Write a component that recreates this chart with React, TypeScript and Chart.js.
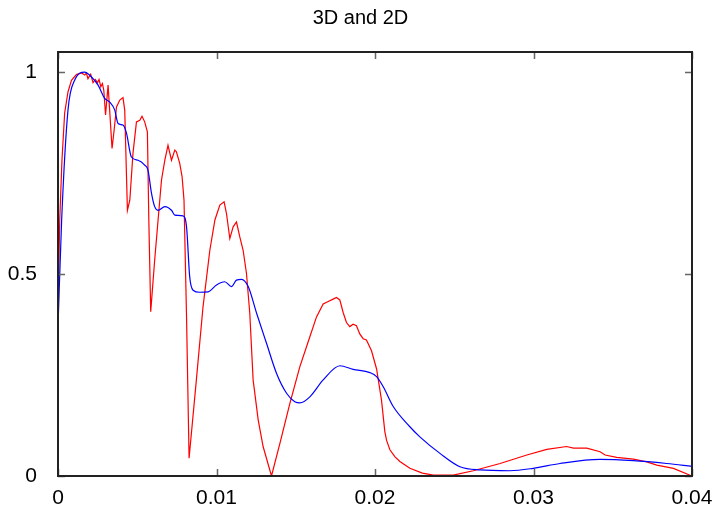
import { useEffect, useRef } from "react";
import { Chart, registerables } from "chart.js";

Chart.register(...registerables);

const TITLE = "3D and 2D";
const X_TICKS = [0, 0.01, 0.02, 0.03, 0.04];
const X_TICK_LABELS = ["0", "0.01", "0.02", "0.03", "0.04"];
const Y_TICKS = [0, 0.5, 1];
const Y_TICK_LABELS = ["0", "0.5", "1"];

const RED_X = [
  0, 0.00011, 0.00025, 0.00042, 0.00063, 0.00085, 0.00116, 0.00148, 0.00169, 0.00179,
  0.00189, 0.00206, 0.00221, 0.00236, 0.00249, 0.00259, 0.0027, 0.0028, 0.00289, 0.003,
  0.00316, 0.00341, 0.00355, 0.00369, 0.0039, 0.0041, 0.00421, 0.00438, 0.00453, 0.00473,
  0.00495, 0.00516, 0.0053, 0.00547, 0.00564, 0.00573, 0.00585, 0.0061, 0.00642, 0.00653,
  0.00674, 0.00694, 0.00716, 0.00737, 0.00747, 0.00768, 0.00783, 0.00795, 0.00811, 0.00827,
  0.00873, 0.00915, 0.00958, 0.0099, 0.01021, 0.01048, 0.01063, 0.01084, 0.01105, 0.01126,
  0.01147, 0.01168, 0.01189, 0.0121, 0.01231, 0.01263, 0.01294, 0.01347, 0.014, 0.01463,
  0.01526, 0.01589, 0.01631, 0.01673, 0.01705, 0.01736, 0.01757, 0.01778, 0.01799, 0.0182,
  0.01841, 0.01862, 0.01883, 0.01904, 0.01925, 0.01946, 0.01978, 0.0201, 0.02041, 0.02062,
  0.02073, 0.02094, 0.02125, 0.02157, 0.0222, 0.02299, 0.02368, 0.02494, 0.0262, 0.02789,
  0.02958, 0.03084, 0.03209, 0.03252, 0.03336, 0.0342, 0.03452, 0.03525, 0.0363, 0.03715,
  0.03778, 0.03883, 0.03988
];
const RED_Y = [
  0.41, 0.634, 0.782, 0.899, 0.951, 0.98, 0.994, 0.998, 0.993, 0.998,
  0.984, 0.995, 0.974, 0.982, 0.974, 0.982, 0.964, 0.972, 0.955, 0.894,
  0.968, 0.811, 0.86, 0.914, 0.931, 0.937, 0.906, 0.658, 0.683, 0.799,
  0.877, 0.881, 0.891, 0.877, 0.852, 0.634, 0.407, 0.535, 0.683, 0.733,
  0.782, 0.819, 0.782, 0.807, 0.803, 0.774, 0.741, 0.683, 0.394, 0.044,
  0.238, 0.419, 0.559, 0.634, 0.671, 0.679, 0.65, 0.588, 0.617, 0.629,
  0.592, 0.559, 0.502, 0.403, 0.238, 0.139, 0.073, 0.0, 0.081, 0.18,
  0.271, 0.345, 0.394, 0.426, 0.432, 0.438, 0.442, 0.436, 0.405, 0.38,
  0.37, 0.376, 0.372, 0.352, 0.34, 0.337, 0.31, 0.265, 0.188, 0.11,
  0.088, 0.065, 0.048, 0.036, 0.019, 0.007, 0.002, 0.002, 0.013, 0.031,
  0.052, 0.066, 0.073, 0.069, 0.069, 0.06, 0.052, 0.046, 0.042, 0.035,
  0.027, 0.019, 0.002
];

const BLUE_X = [
  0, 0.00023, 0.00063, 0.00105, 0.00168, 0.00211, 0.00253, 0.00295, 0.00326, 0.00358,
  0.00379, 0.0041, 0.00432, 0.00463, 0.00505, 0.00547, 0.00568, 0.0059, 0.0061, 0.00631,
  0.00674, 0.00716, 0.00737, 0.00789, 0.00811, 0.00831, 0.00852, 0.00895, 0.00947, 0.01,
  0.01052, 0.01095, 0.01126, 0.01158, 0.012, 0.01253, 0.01316, 0.01379, 0.01442, 0.01494,
  0.01526, 0.01589, 0.01673, 0.01779, 0.01862, 0.01968, 0.0201, 0.02052, 0.02115, 0.0222,
  0.02283, 0.0241, 0.02536, 0.02662, 0.02852, 0.02999, 0.03167, 0.0342, 0.0363, 0.03841,
  0.04
];
const BLUE_Y = [
  0.369, 0.634, 0.906, 0.98, 1.0, 0.988, 0.968, 0.935, 0.926, 0.906,
  0.873, 0.869, 0.849, 0.79, 0.782, 0.77, 0.757, 0.7, 0.667, 0.658,
  0.667, 0.658, 0.646, 0.644, 0.617, 0.493, 0.46, 0.455, 0.456, 0.473,
  0.481, 0.469, 0.485, 0.487, 0.469, 0.403, 0.328, 0.254, 0.205, 0.184,
  0.181, 0.196, 0.238, 0.273, 0.264, 0.256, 0.246, 0.221, 0.172, 0.122,
  0.097, 0.056, 0.023, 0.015, 0.013, 0.019, 0.031, 0.041, 0.038, 0.031,
  0.024
];

const FONT = "'Liberation Sans', Arial, Helvetica, sans-serif";

const framePlugin = {
  id: "frame",
  afterDatasetsDraw(chart: any) {
    const { ctx, chartArea: a, scales } = chart;
    ctx.save();
    ctx.strokeStyle = "#666";
    ctx.lineWidth = 1.5;
    const len = 7;
    ctx.beginPath();
    for (const v of X_TICKS) {
      const px = Math.round(scales.x.getPixelForValue(v)) + 0.5;
      ctx.moveTo(px, a.bottom);
      ctx.lineTo(px, a.bottom - len);
      ctx.moveTo(px, a.top);
      ctx.lineTo(px, a.top + len);
    }
    for (const v of Y_TICKS) {
      const py = Math.round(scales.y.getPixelForValue(v)) + 0.5;
      ctx.moveTo(a.left, py);
      ctx.lineTo(a.left + len, py);
      ctx.moveTo(a.right, py);
      ctx.lineTo(a.right - len, py);
    }
    ctx.stroke();
    ctx.strokeStyle = "#222";
    ctx.lineWidth = 2;
    ctx.strokeRect(a.left, a.top, a.right - a.left, a.bottom - a.top);
    ctx.restore();
  },
};

export default function App() {
  const ref = useRef<HTMLCanvasElement | null>(null);
  useEffect(() => {
    if (!ref.current) return;
    const blue = BLUE_X.map((x, i) => ({ x, y: BLUE_Y[i] }));
    const red = RED_X.map((x, i) => ({ x, y: RED_Y[i] }));
    const chart = new Chart(ref.current, {
      type: "scatter",
      data: {
        datasets: [
          {
            label: "2D",
            data: blue,
            showLine: true,
            borderColor: "#0000ff",
            borderWidth: 1.2,
            pointRadius: 0,
            cubicInterpolationMode: "monotone",
          },
          {
            label: "3D",
            data: red,
            showLine: true,
            borderColor: "#ff0000",
            borderWidth: 1.2,
            pointRadius: 0,
            tension: 0,
          },
        ],
      },
      options: {
        animation: false,
        responsive: false,
        devicePixelRatio: 1,
        layout: { padding: { left: 0, right: 0, top: 0, bottom: 0 } },
        plugins: {
          legend: { display: false },
          tooltip: { enabled: false },
          title: {
            display: true,
            text: TITLE,
            color: "#000",
            font: { family: FONT, size: 20, weight: "normal", lineHeight: 1 },
            padding: { top: 8, bottom: 24 },
          },
        },
        scales: {
          x: {
            type: "linear",
            min: 0,
            max: 0.04,
            grid: { display: false },
            border: { display: false },
            afterBuildTicks: (s: any) => {
              s.ticks = X_TICKS.map((v) => ({ value: v }));
            },
            afterFit: (s: any) => {
              s.height = 35;
            },
            ticks: {
              autoSkip: false,
              maxRotation: 0,
              color: "#000",
              padding: 2,
              font: { family: FONT, size: 21 },
              callback: (v: any) => X_TICK_LABELS[X_TICKS.indexOf(Number(v))] ?? "",
            },
          },
          y: {
            type: "linear",
            min: 0,
            max: 1.05,
            grid: { display: false },
            border: { display: false },
            afterBuildTicks: (s: any) => {
              s.ticks = Y_TICKS.map((v) => ({ value: v }));
            },
            afterFit: (s: any) => {
              s.width = 58;
            },
            ticks: {
              autoSkip: false,
              color: "#000",
              padding: 13,
              font: { family: FONT, size: 21 },
              callback: (v: any) => Y_TICK_LABELS[Y_TICKS.indexOf(Number(v))] ?? "",
            },
          },
          yR: {
            type: "linear",
            position: "right",
            display: true,
            grid: { display: false },
            border: { display: false },
            ticks: { display: false },
            afterFit: (s: any) => {
              s.width = 29;
            },
          },
        },
      },
      plugins: [framePlugin],
    });
    return () => chart.destroy();
  }, []);
  return (
    <div style={{ position: "fixed", left: 0, top: 0, width: 721, height: 511, background: "#fff" }}>
      <canvas ref={ref} width={721} height={511} />
    </div>
  );
}
